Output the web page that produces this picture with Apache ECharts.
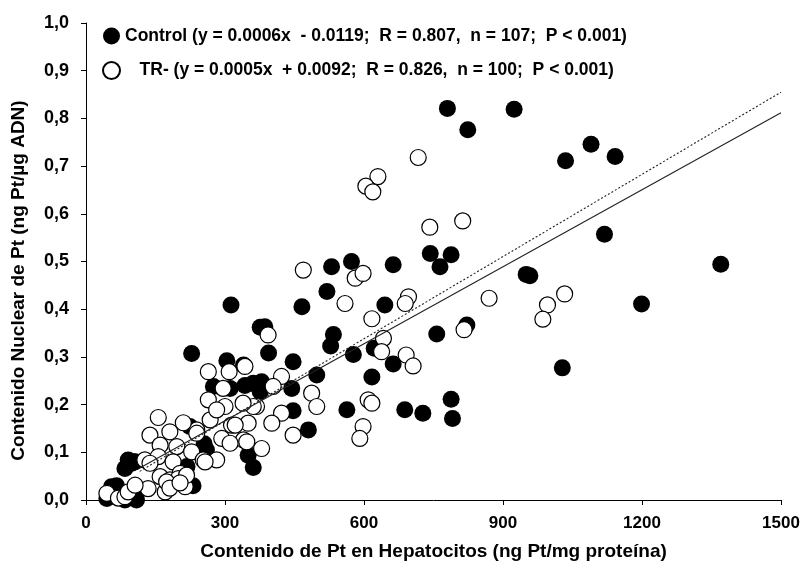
<!DOCTYPE html>
<html>
<head>
<meta charset="utf-8">
<script src="https://cdn.jsdelivr.net/npm/echarts@6/dist/echarts.min.js"></script>
<style>
  html, body { margin: 0; padding: 0; background: #fff; }
  #chart { width: 804px; height: 562px; }
</style>
</head>
<body>
<div id="chart"></div>
<script>
// Tick values and their printed labels (decimal comma)
const xTicks = [0, 300, 600, 900, 1200, 1500];
const yTicks = ['0,0', '0,1', '0,2', '0,3', '0,4', '0,5', '0,6', '0,7', '0,8', '0,9', '1,0'];

// Control group: [Pt in hepatocytes (ng Pt/mg protein), nuclear Pt (ng Pt/µg DNA)]
const controlPts = [
  [780, 0.821], [924, 0.819], [824, 0.776], [1090, 0.746], [1035, 0.711], [1142, 0.720],
  [1119, 0.557], [1370, 0.494], [958, 0.470], [950, 0.473], [1199, 0.411], [788, 0.514],
  [743, 0.517], [764, 0.489], [822, 0.367], [757, 0.348], [1028, 0.277], [688, 0.189],
  [727, 0.182], [788, 0.211], [791, 0.171], [663, 0.493], [573, 0.500], [530, 0.489],
  [520, 0.437], [466, 0.405], [645, 0.409], [534, 0.347], [528, 0.323], [577, 0.305],
  [622, 0.318], [663, 0.285], [617, 0.258], [498, 0.262], [563, 0.189], [480, 0.147],
  [447, 0.290], [444, 0.234], [447, 0.187], [313, 0.409], [376, 0.362], [386, 0.363],
  [394, 0.308], [228, 0.307], [304, 0.292], [340, 0.283], [361, 0.245], [379, 0.248],
  [343, 0.240], [275, 0.238], [311, 0.234], [370, 0.240], [376, 0.227], [350, 0.094],
  [361, 0.068], [260, 0.105], [224, 0.154], [255, 0.118], [218, 0.070], [231, 0.030],
  [102, 0.080], [91, 0.084], [99, 0.077], [84, 0.066], [106, 0.080], [55, 0.028],
  [45, 0.003], [70, 0.014], [109, 0.000], [84, 0.000], [66, 0.030], [109, 0.015]
];

// TR- group
const trPts = [
  [717, 0.718], [630, 0.678], [604, 0.658], [619, 0.646], [742, 0.572], [813, 0.585],
  [870, 0.423], [996, 0.409], [1033, 0.432], [986, 0.379], [816, 0.357], [691, 0.304],
  [706, 0.281], [469, 0.482], [581, 0.465], [598, 0.475], [559, 0.412], [696, 0.426],
  [689, 0.412], [617, 0.380], [642, 0.339], [638, 0.311], [393, 0.346], [422, 0.259],
  [487, 0.224], [498, 0.196], [422, 0.182], [401, 0.161], [447, 0.136], [379, 0.108],
  [609, 0.210], [617, 0.203], [598, 0.154], [591, 0.129], [264, 0.269], [309, 0.269],
  [343, 0.280], [296, 0.234], [404, 0.238], [264, 0.210], [300, 0.196], [368, 0.196],
  [268, 0.168], [314, 0.157], [350, 0.161], [293, 0.129], [340, 0.126], [239, 0.147],
  [156, 0.173], [210, 0.162], [282, 0.189], [138, 0.136], [181, 0.143], [160, 0.115],
  [196, 0.112], [228, 0.101], [253, 0.084], [282, 0.084], [311, 0.119], [347, 0.122],
  [361, 0.196], [339, 0.203], [127, 0.084], [156, 0.091], [188, 0.080], [203, 0.056],
  [160, 0.049], [181, 0.042], [134, 0.024], [171, 0.017], [214, 0.028], [199, 0.045],
  [45, 0.014], [70, 0.004], [84, 0.007], [91, 0.017], [106, 0.031], [138, 0.077],
  [174, 0.038], [239, 0.140], [257, 0.080], [322, 0.157], [217, 0.052], [181, 0.025],
  [203, 0.036]
];

// Regression lines as drawn (start and end points)
const controlFit = [[116, 0.067], [1500, 0.812]];
const trFit = [[116, 0.060], [1500, 0.855]];

const legendText = {
  'Control': 'Control (y = 0.0006x  - 0.0119;  R = 0.807,  n = 107;  P < 0.001)',
  'TR-': '   TR- (y = 0.0005x  + 0.0092;  R = 0.826,  n = 100;  P < 0.001)'
};

const FONT = '"Liberation Sans", Arial, sans-serif';

const chart = echarts.init(document.getElementById('chart'), null, { renderer: 'canvas' });
chart.setOption({
  animation: false,
  backgroundColor: '#fff',
  grid: { left: 86, right: 23, top: 23, bottom: 62, containLabel: false, outerBoundsMode: 'none' },
  legend: {
    data: ['Control', 'TR-'],
    orient: 'vertical',
    left: 102,
    top: 27,
    padding: 0,
    itemWidth: 17,
    itemHeight: 17,
    itemGap: 16,
    selectedMode: false,
    formatter: name => legendText[name],
    textStyle: { fontFamily: FONT, fontWeight: 'bold', fontSize: 17.5, color: '#000' }
  },
  xAxis: {
    type: 'value',
    min: xTicks[0],
    max: xTicks[xTicks.length - 1],
    interval: 300,
    name: 'Contenido de Pt en Hepatocitos (ng Pt/mg proteína)',
    nameLocation: 'middle',
    nameGap: 42,
    nameTextStyle: { fontFamily: FONT, fontWeight: 'bold', fontSize: 19, color: '#000' },
    axisLine: { lineStyle: { color: '#000', width: 1 } },
    axisTick: { inside: false, length: 5, lineStyle: { color: '#000' } },
    axisLabel: {
      fontFamily: FONT, fontWeight: 'bold', fontSize: 17, color: '#000', margin: 15,
      formatter: v => String(xTicks[xTicks.indexOf(v)])
    },
    splitLine: { show: false }
  },
  yAxis: {
    type: 'value',
    min: 0,
    max: 1,
    interval: 0.1,
    name: 'Contenido Nuclear de Pt (ng Pt/µg ADN)',
    nameLocation: 'middle',
    nameGap: 58,
    nameTextStyle: {
      fontFamily: FONT, fontWeight: 'bold', fontSize: 19, color: '#000',
      padding: [0, 38, 0, 0]
    },
    axisLine: { show: true, lineStyle: { color: '#000', width: 1 } },
    axisTick: { show: true, inside: false, length: 5, lineStyle: { color: '#000' } },
    axisLabel: {
      fontFamily: FONT, fontWeight: 'bold', fontSize: 18, color: '#000', margin: 17,
      formatter: v => yTicks[Math.round(v * 10)]
    },
    splitLine: { show: false }
  },
  series: [
    {
      name: 'Control',
      type: 'scatter',
      data: controlPts,
      symbol: 'circle',
      symbolSize: 17,
      itemStyle: { color: '#000', borderColor: '#000', borderWidth: 0, opacity: 1 },
      z: 2
    },
    {
      name: 'TR-',
      type: 'scatter',
      data: trPts,
      symbol: 'circle',
      symbolSize: 16,
      itemStyle: { color: '#fff', borderColor: '#000', borderWidth: 1.2, opacity: 1 },
      z: 3
    },
    {
      name: 'Control fit',
      type: 'line',
      data: controlFit,
      showSymbol: false,
      silent: true,
      lineStyle: { color: '#222', width: 1.1, type: 'solid' },
      z: 4
    },
    {
      name: 'TR- fit',
      type: 'line',
      data: trFit,
      showSymbol: false,
      silent: true,
      lineStyle: { color: '#222', width: 1.1, type: [2, 2] },
      z: 4
    }
  ]
});
</script>
</body>
</html>
